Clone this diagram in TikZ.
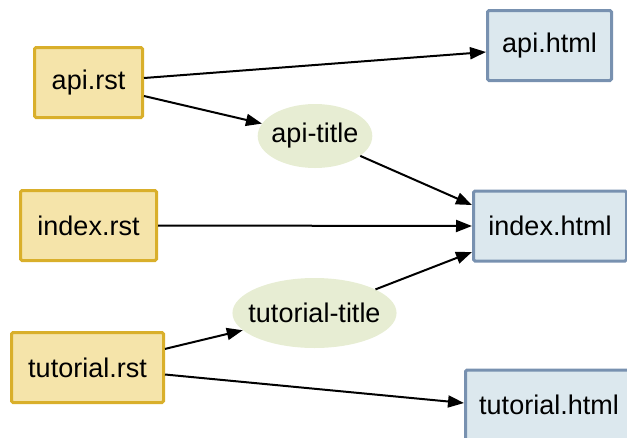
\documentclass[tikz,border=0pt]{standalone}
\usepackage{fontspec}
\setmainfont{Liberation Sans}
\usetikzlibrary{arrows.meta,shapes.geometric}
\definecolor{rstfill}{HTML}{F5E4AA}
\definecolor{rstdraw}{HTML}{D9AF2B}
\definecolor{htmlfill}{HTML}{DCE8EE}
\definecolor{htmldraw}{HTML}{7891B0}
\definecolor{titlefill}{HTML}{E7EDD3}
\tikzset{
  rstbox/.style={draw=rstdraw, fill=rstfill, line width=3pt, rounded corners=1.5pt, minimum height=70pt, inner sep=0pt, font=\fontsize{27}{32}\selectfont},
  htmlbox/.style={draw=htmldraw, fill=htmlfill, line width=3pt, rounded corners=1.5pt, minimum height=70pt, inner sep=0pt, font=\fontsize{27}{32}\selectfont},
  titlenode/.style={ellipse, fill=titlefill, draw=none, inner ysep=0pt, font=\fontsize{27}{32}\selectfont},
  edge/.style={line width=2pt, black, -{Triangle[length=16pt,width=12pt]}}
}
\begin{document}
\begin{tikzpicture}[x=1pt,y=-1pt]
\useasboundingbox (0,0) rectangle (627,437);
\clip (0,0) rectangle (627,437);
\node[rstbox, minimum width=108pt] (arst) at (88.5,82.5) {api.rst};
\node[rstbox, minimum width=136pt] (irst) at (88.5,225.5) {index.rst};
\node[rstbox, minimum width=152pt] (trst) at (87.5,367.5) {tutorial.rst};
\node[htmlbox, minimum width=124pt] (ahtml) at (549.5,45.5) {api.html};
\node[htmlbox, minimum width=153pt] (ihtml) at (550,226) {index.html};
\node[htmlbox, minimum width=167pt] (thtml) at (549,405) {tutorial.html};
\node[titlenode, inner xsep=-3pt, minimum height=64pt] (atitle) at (315,136) {api-title};
\node[titlenode, inner xsep=-8pt, minimum height=70pt] (ttitle) at (314.5,313) {tutorial-title};
\draw[edge] ([yshift=4.5pt]arst.east) -- ([yshift=-6.5pt]ahtml.west);
\draw[edge] ([yshift=-13.5pt]arst.east) -- (atitle);
\draw[edge] (atitle) -- ([yshift=21pt]ihtml.west);
\draw[edge] (irst.east) -- (ihtml.west);
\draw[edge] (ttitle) -- ([yshift=-26pt]ihtml.west);
\draw[edge] (trst) -- (ttitle);
\draw[edge] ([yshift=-7pt]trst.east) -- ([yshift=2pt]thtml.west);
\end{tikzpicture}
\end{document}
